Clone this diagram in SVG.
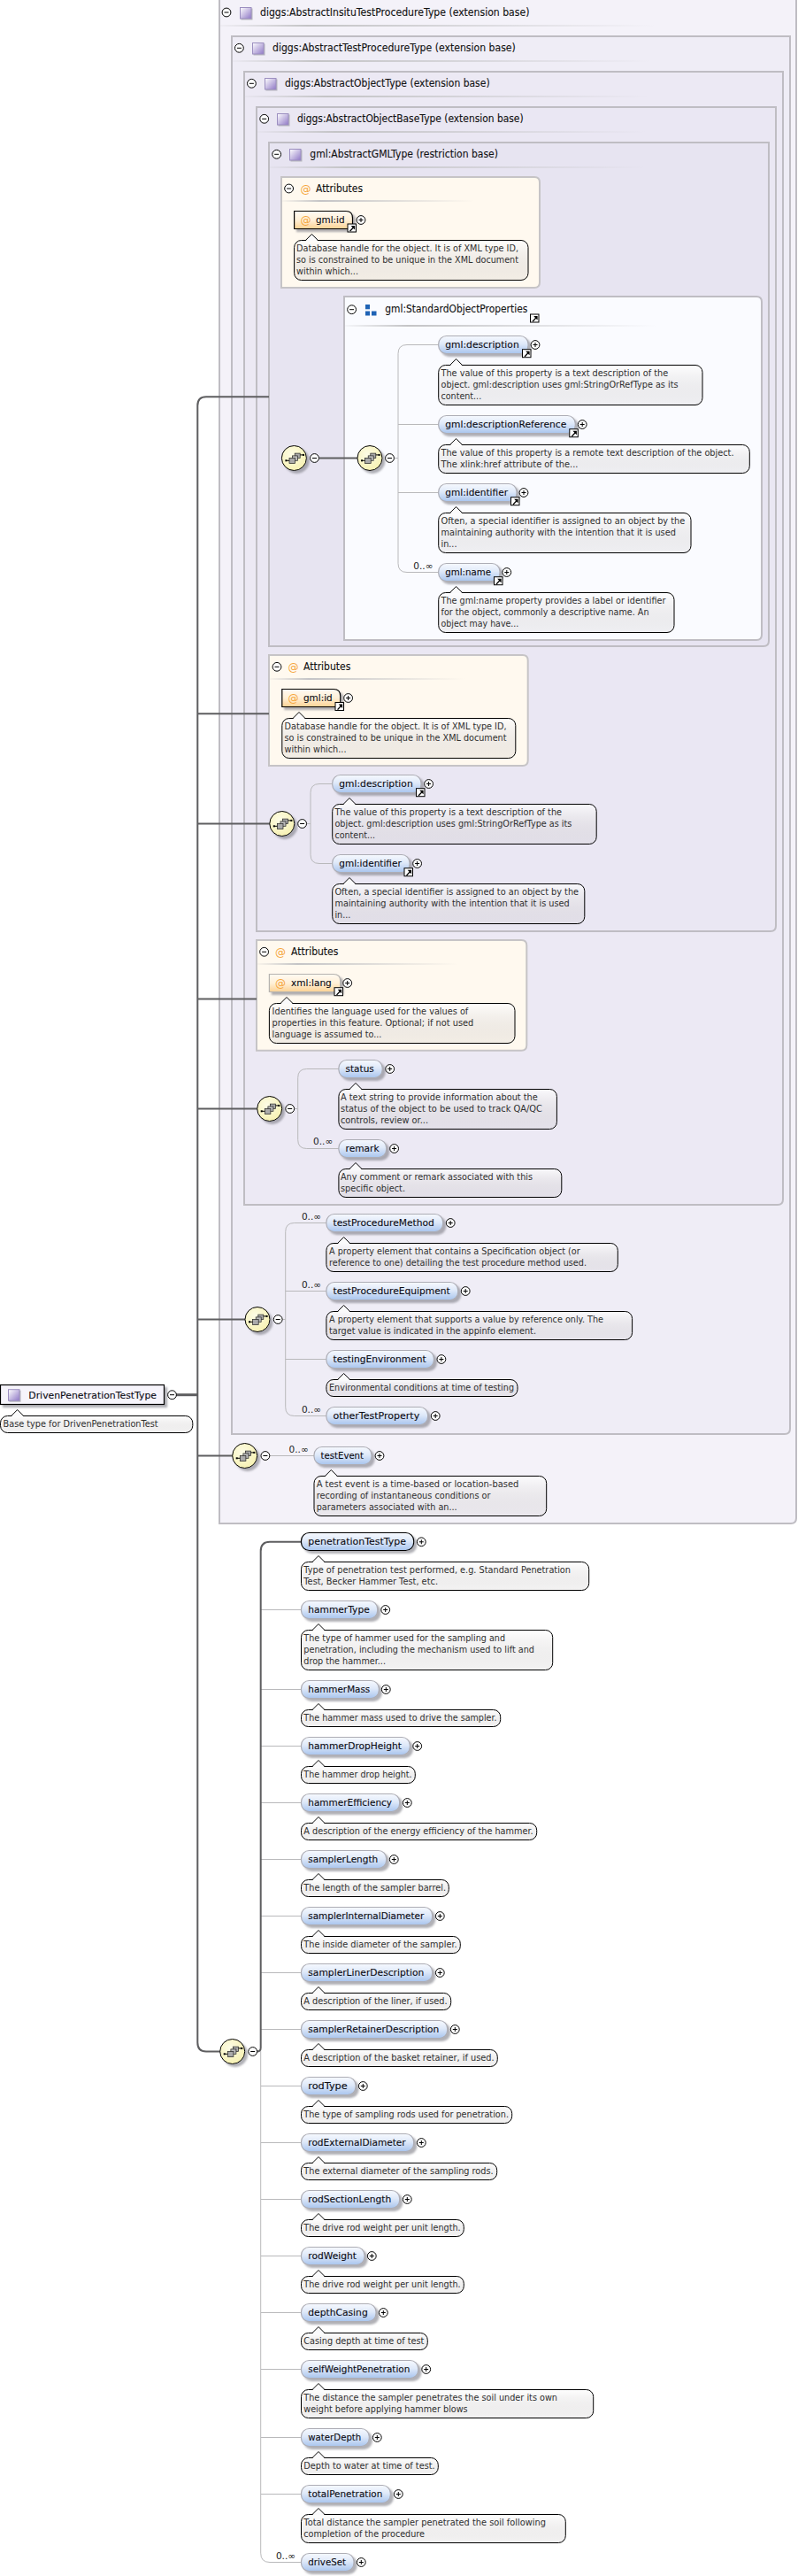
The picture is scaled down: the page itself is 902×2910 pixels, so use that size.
<svg xmlns="http://www.w3.org/2000/svg" width="902" height="2910" viewBox="0 0 902 2910">
<style>
text{font-family:"DejaVu Sans","Liberation Sans",sans-serif}
.hd{font-size:11.5px;fill:#111;stroke:#111;stroke-width:.12}
.nm{font-size:11px;fill:#0c0c14;stroke:#0c0c14;stroke-width:.12}
.dc{font-size:10px;fill:#303030}
.oc{font-size:10.5px;fill:#222}
.at{font-size:12px;fill:#f5a63c}
.frame{stroke:#bfbdc3;stroke-width:2}
.ab{fill:#fff9ef;stroke:#c6c4c6;stroke-width:2}
.el{fill:url(#gEl);stroke:#adadb5;stroke-width:1.2;filter:url(#sh);height:20px}
.elk{fill:url(#gEl);stroke:#000;stroke-width:1.2;filter:url(#sh);height:20px}
.atn{fill:url(#gAt);stroke:#000;stroke-width:1.2;filter:url(#sh)}
.atg{fill:url(#gAt);stroke:#b5b3b0;stroke-width:1.2;filter:url(#sh)}
.doc{fill:url(#gDoc);stroke:#000;stroke-width:1}
.sep{fill:url(#gSep)}
.lt{fill:none;stroke:#b9b9bb;stroke-width:1}
.dk{fill:none;stroke:#5e5e60;stroke-width:2}
</style>
<defs>
<linearGradient id="gEl" x1="0" y1="0" x2="0" y2="1"><stop offset="0" stop-color="#f6f9fe"/><stop offset=".45" stop-color="#dfe9f9"/><stop offset="1" stop-color="#a9c5ee"/></linearGradient>
<linearGradient id="gAt" x1="0" y1="0" x2="0" y2="1"><stop offset="0" stop-color="#fffaf2"/><stop offset=".5" stop-color="#fff0d8"/><stop offset="1" stop-color="#fcd293"/></linearGradient>
<linearGradient id="gDoc" x1="0" y1="0" x2="0" y2="1"><stop offset="0" stop-color="#fff" stop-opacity=".75"/><stop offset="1" stop-color="#c0bcbc" stop-opacity=".18"/></linearGradient>
<linearGradient id="gSep" x1="0" y1="0" x2="1" y2="0"><stop offset="0" stop-color="#c4c4c6" stop-opacity=".1"/><stop offset=".2" stop-color="#c4c4c6"/><stop offset="1" stop-color="#c4c4c6" stop-opacity="0"/></linearGradient>
<linearGradient id="gTy" x1="0" y1="0" x2="1" y2="1"><stop offset="0" stop-color="#fff"/><stop offset="1" stop-color="#8f78c6"/></linearGradient>
<radialGradient id="gSeq" cx=".4" cy=".35" r=".75"><stop offset="0" stop-color="#fdfce6"/><stop offset="1" stop-color="#f6f0ac"/></radialGradient>
<filter id="sh" x="-10%" y="-20%" width="125%" height="160%"><feDropShadow dx="3" dy="3" stdDeviation="1.1" flood-color="#7d7d85" flood-opacity=".6"/></filter>
<g id="plus"><circle r="4.9" fill="#fff" stroke="#000"/><path d="M-2.5,0H2.5M0,-2.5V2.5" stroke="#000"/></g>
<g id="minus"><circle r="4.9" fill="#fff" stroke="#000"/><path d="M-2.5,0H2.5" stroke="#000"/></g>
<g id="lnk"><rect x=".5" y=".5" width="9.5" height="9" fill="#fff" stroke="#000"/><path d="M2.5,8.2L6,4.6L4.2,2.6H8.6V7L6.9,5.5L3.6,9Z" fill="#000"/></g>
<g id="tip"><path d="M-7,.7L0,-7L7,.7Z" fill="#fafafb"/><path d="M-7,0L0,-7L7,0" fill="none" stroke="#000"/></g>
<g id="ty"><rect x="1.5" y="1.5" width="13" height="13" fill="#b8b8be"/><rect x=".5" y=".5" width="12.5" height="12.5" fill="url(#gTy)" stroke="#9c8fc0"/></g>
<g id="seq"><circle r="14" fill="url(#gSeq)" stroke="#000" filter="url(#sh)"/><rect x="0.8" y="-5.4" width="6" height="5.4" fill="#aaa" stroke="#222" stroke-width=".7"/><rect x="-1.8" y="-2.6" width="6" height="5.4" fill="#bbb" stroke="#222" stroke-width=".7"/><rect x="-5.4" y="0" width="6.6" height="6" fill="#aaa" stroke="#222" stroke-width=".7"/><path d="M-9,2.8H-5.4M6.8,-3.6H10.5" stroke="#000"/><rect x="-10" y="1.8" width="2" height="2" fill="#000"/><rect x="9.6" y="-4.6" width="2" height="2" fill="#000"/></g>
</defs>
<rect width="902" height="2910" fill="#fff"/>

<g id="box-insitu"><path class="frame" fill="#f4f2f9" d="M248,-1H900V1715Q900,1721 894,1721H248Z"/><use href="#minus" x="256" y="14"/><use href="#ty" x="271" y="8"/><text class="hd" x="294" y="18" textLength="304.4" lengthAdjust="spacingAndGlyphs">diggs:AbstractInsituTestProcedureType (extension base)</text><rect class="sep" x="249" y="28" width="492" height="2"/></g>
<g id="box-testproc"><path class="frame" fill="#efedf6" d="M262,41H893V1614Q893,1620 887,1620H262Z"/><use href="#minus" x="270.4" y="54.3"/><use href="#ty" x="285" y="48"/><text class="hd" x="308" y="58.3" textLength="274.8" lengthAdjust="spacingAndGlyphs">diggs:AbstractTestProcedureType (extension base)</text><rect class="sep" x="263" y="68" width="473" height="2"/></g>
<g id="box-object"><path class="frame" fill="#ece9f4" d="M276,81H885V1355Q885,1361 879,1361H276Z"/><use href="#minus" x="284.4" y="94.3"/><use href="#ty" x="299" y="88"/><text class="hd" x="322" y="98.3" textLength="231.6" lengthAdjust="spacingAndGlyphs">diggs:AbstractObjectType (extension base)</text><rect class="sep" x="277" y="108" width="456" height="2"/></g>
<g id="box-objectbase"><path class="frame" fill="#eae7f3" d="M290,121H877V1046Q877,1052 871,1052H290Z"/><use href="#minus" x="298.7" y="134.3"/><use href="#ty" x="313" y="128"/><text class="hd" x="336" y="138.3" textLength="255.6" lengthAdjust="spacingAndGlyphs">diggs:AbstractObjectBaseType (extension base)</text><rect class="sep" x="291" y="148" width="440" height="2"/></g>
<g id="box-gml"><path class="frame" fill="#e7e4f1" d="M304,161H869V724Q869,730 863,730H304Z"/><use href="#minus" x="312.7" y="174.3"/><use href="#ty" x="327" y="168"/><text class="hd" x="350.3" y="178.3" textLength="212.7" lengthAdjust="spacingAndGlyphs">gml:AbstractGMLType (restriction base)</text><rect class="sep" x="305" y="188" width="424" height="2"/></g>
<g id="std-props"><path fill="#fafbff" class="frame" d="M389,335H855Q861,335 861,341V717Q861,723 855,723H389Z"/><use href="#minus" x="397.6" y="349.7"/><rect x="413" y="344" width="5" height="5.3" fill="#1f63b5"/><rect x="413" y="351.5" width="5" height="5" fill="#1f63b5"/><rect x="420" y="351.5" width="5.5" height="5" fill="#1f63b5"/><text class="hd" x="435.3" y="353" textLength="161" lengthAdjust="spacingAndGlyphs">gml:StandardObjectProperties</text><use href="#lnk" x="599" y="354.5"/><rect class="sep" x="390" y="367" width="353" height="2"/></g>
<g id="attrs-1"><path class="ab" d="M318,200H604Q610,200 610,206V319Q610,325 604,325H318Z"/><use href="#minus" x="326.6" y="213"/><text class="at" x="339.5" y="217.5">@</text><text class="hd" x="357" y="217" textLength="53" lengthAdjust="spacingAndGlyphs">Attributes</text><rect class="sep" x="319" y="226" width="217" height="2"/></g>
<g id="attrs-2"><path class="ab" d="M304,740H590.7Q596.7,740 596.7,746V859Q596.7,865 590.7,865H304Z"/><use href="#minus" x="313" y="753.3"/><text class="at" x="325.5" y="757.8">@</text><text class="hd" x="343" y="757.3" textLength="53.3" lengthAdjust="spacingAndGlyphs">Attributes</text><rect class="sep" x="305" y="766" width="220" height="2"/></g>
<g id="attrs-3"><path class="ab" d="M290,1062H589.3Q595.3,1062 595.3,1068V1180.7Q595.3,1186.7 589.3,1186.7H290Z"/><use href="#minus" x="298.6" y="1075.3"/><text class="at" x="311" y="1079.8">@</text><text class="hd" x="329" y="1079.3" textLength="53.4" lengthAdjust="spacingAndGlyphs">Attributes</text><rect class="sep" x="291" y="1088" width="227" height="2"/></g>

<g transform="translate(0 .2)">
<g id="connectors">
<path class="lt" d="M446,517.3H450M450,399.3Q450,389.3 460,389.3H495.7M450,399.3V636.3Q450,646.3 460,646.3H495.7M450,479.3H495.7M450,556.3H495.7"/>
<path class="lt" d="M346,930.3H351M351,895.3Q351,885.3 361,885.3H375.7M351,895.3V965.3Q351,975.3 361,975.3H375.7"/>
<path class="lt" d="M332.5,1252.3H336.7M336.7,1217.3Q336.7,1207.3 346.7,1207.3H383M336.7,1217.3V1287.3Q336.7,1297.3 346.7,1297.3H383"/>
<path class="lt" d="M319,1490.3H322.7M322.7,1391.3Q322.7,1381.3 332.7,1381.3H369M322.7,1391.3V1589.3Q322.7,1599.3 332.7,1599.3H369M322.7,1458.3H369M322.7,1535.3H369"/>
<path class="lt" d="M305,1644.3H355"/>
<path class="lt" d="M294.7,2317V2884Q294.7,2894.3 305,2894.3H340.5M295,1818.3H340.5M295,1908.3H340.5M295,1972.3H340.5M295,2036.3H340.5M295,2100.3H340.5M295,2164.3H340.5M295,2228.3H340.5M295,2292.3H340.5M295,2356.3H340.5M295,2420.3H340.5M295,2484.3H340.5M295,2548.3H340.5M295,2612.3H340.5M295,2676.3H340.5M295,2753.3H340.5M295,2817.3H340.5"/>
<path class="dk" d="M304,448H233Q223.3,448 223.3,458V2307Q223.3,2317.3 233,2317.3H249"/>
<path class="dk" d="M223,806H304M223,930.3H305M223,1128.3H290M223,1252.3H291M223,1490.3H277M223,1644.3H263"/>
<path class="dk" style="stroke-width:3" d="M199,1575.5H224"/>
<path class="dk" d="M361,517.3H404"/>
<path class="dk" d="M340.5,1741.5H305Q294.7,1741.5 294.7,1752V2313Q294.7,2317.3 290.5,2317.3"/>
</g>

<g id="n-gml-id-1"><path class="atn" d="M332.6,238.3H391Q398.5,238.3 398.5,246V258.3H332.6Z"/><text class="at" x="339.5" y="252.5">@</text><text class="nm" x="357" y="252" textLength="32.6" lengthAdjust="spacingAndGlyphs">gml:id</text><use href="#lnk" x="392.5" y="252.3"/><use href="#plus" x="408" y="248.3"/>
<rect class="doc" x="332.6" y="271.3" width="264.4" height="45" rx="8"/><use href="#tip" x="352.4" y="271.3"/><text class="dc" x="335" y="283.5" textLength="251" lengthAdjust="spacingAndGlyphs">Database handle for the object. It is of XML type ID,</text><text class="dc" x="335" y="296.5" textLength="251" lengthAdjust="spacingAndGlyphs">so is constrained to be unique in the XML document</text><text class="dc" x="335" y="309.5" textLength="70" lengthAdjust="spacingAndGlyphs">within which...</text></g>

<g id="seq-a"><use href="#seq" x="332.4" y="517.3"/><use href="#minus" x="355.5" y="517.3"/><use href="#seq" x="418" y="517.3"/><use href="#minus" x="440.5" y="517.3"/></g>

<g id="n-gml-description-1"><rect class="el" x="495.7" y="379.3" width="101.3" height="20.5" rx="9"/><text class="nm" x="503.3" y="393" textLength="83.4" lengthAdjust="spacingAndGlyphs">gml:description</text><use href="#lnk" x="590" y="394"/><use href="#plus" x="605" y="389.3"/>
<rect class="doc" x="495.7" y="412.3" width="298.3" height="45" rx="8"/><use href="#tip" x="515.6" y="412.3"/><text class="dc" x="498.5" y="424.5" textLength="256.7" lengthAdjust="spacingAndGlyphs">The value of this property is a text description of the</text><text class="dc" x="498.5" y="437.5" textLength="268" lengthAdjust="spacingAndGlyphs">object. gml:description uses gml:StringOrRefType as its</text><text class="dc" x="498.5" y="450.5" textLength="45.7" lengthAdjust="spacingAndGlyphs">content...</text></g>
<g id="n-gml-descriptionReference"><rect class="el" x="495.7" y="469.3" width="154.6" height="20.5" rx="9"/><text class="nm" x="503.3" y="483" textLength="137" lengthAdjust="spacingAndGlyphs">gml:descriptionReference</text><use href="#lnk" x="643.3" y="484"/><use href="#plus" x="658.2" y="479.3"/>
<rect class="doc" x="495.7" y="502.3" width="351.6" height="32" rx="8"/><use href="#tip" x="515.6" y="502.3"/><text class="dc" x="498.5" y="514.5" textLength="331" lengthAdjust="spacingAndGlyphs">The value of this property is a remote text description of the object.</text><text class="dc" x="498.5" y="527.5" textLength="155" lengthAdjust="spacingAndGlyphs">The xlink:href attribute of the...</text></g>
<g id="n-gml-identifier-1"><rect class="el" x="495.7" y="546.3" width="88.3" height="20.5" rx="9"/><text class="nm" x="503.3" y="560" textLength="70.7" lengthAdjust="spacingAndGlyphs">gml:identifier</text><use href="#lnk" x="577" y="561"/><use href="#plus" x="592" y="556.3"/>
<rect class="doc" x="495.7" y="579.3" width="285.3" height="45" rx="8"/><use href="#tip" x="515.6" y="579.3"/><text class="dc" x="498.5" y="591.5" textLength="275.7" lengthAdjust="spacingAndGlyphs">Often, a special identifier is assigned to an object by the</text><text class="dc" x="498.5" y="604.5" textLength="265.4" lengthAdjust="spacingAndGlyphs">maintaining authority with the intention that it is used</text><text class="dc" x="498.5" y="617.5" textLength="18" lengthAdjust="spacingAndGlyphs">in...</text></g>
<g id="n-gml-name"><text class="oc" x="489.4" y="642.5" text-anchor="end">0..∞</text><rect class="el" x="495.7" y="636.3" width="69.3" height="20.5" rx="9"/><text class="nm" x="503.3" y="650" textLength="51.7" lengthAdjust="spacingAndGlyphs">gml:name</text><use href="#lnk" x="558" y="651"/><use href="#plus" x="572.8" y="646.3"/>
<rect class="doc" x="495.7" y="669.3" width="266.3" height="45" rx="8"/><use href="#tip" x="515.6" y="669.3"/><text class="dc" x="498.5" y="681.5" textLength="254" lengthAdjust="spacingAndGlyphs">The gml:name property provides a label or identifier</text><text class="dc" x="498.5" y="694.5" textLength="235" lengthAdjust="spacingAndGlyphs">for the object, commonly a descriptive name. An</text><text class="dc" x="498.5" y="707.5" textLength="87.8" lengthAdjust="spacingAndGlyphs">object may have...</text></g>

<g id="n-gml-id-2"><path class="atn" d="M318.8,778.3H377Q384.7,778.3 384.7,786V798.3H318.8Z"/><text class="at" x="325.5" y="792.5">@</text><text class="nm" x="343" y="792" textLength="32.7" lengthAdjust="spacingAndGlyphs">gml:id</text><use href="#lnk" x="378.5" y="792.8"/><use href="#plus" x="393.6" y="788.3"/>
<rect class="doc" x="318.8" y="811.3" width="264" height="45" rx="8"/><use href="#tip" x="338" y="811.3"/><text class="dc" x="321.5" y="823.5" textLength="251" lengthAdjust="spacingAndGlyphs">Database handle for the object. It is of XML type ID,</text><text class="dc" x="321.5" y="836.5" textLength="251" lengthAdjust="spacingAndGlyphs">so is constrained to be unique in the XML document</text><text class="dc" x="321.5" y="849.5" textLength="70" lengthAdjust="spacingAndGlyphs">within which...</text></g>

<g id="seq-b"><use href="#seq" x="318.8" y="930.3"/><use href="#minus" x="341.6" y="930.3"/></g>
<g id="n-gml-description-2"><rect class="el" x="375.7" y="875.3" width="100.3" height="20.5" rx="9"/><text class="nm" x="383.3" y="889" textLength="83.4" lengthAdjust="spacingAndGlyphs">gml:description</text><use href="#lnk" x="470" y="890"/><use href="#plus" x="484.6" y="885.3"/>
<rect class="doc" x="375.7" y="908.3" width="298.5" height="45" rx="8"/><use href="#tip" x="395" y="908.3"/><text class="dc" x="378.4" y="920.5" textLength="256.7" lengthAdjust="spacingAndGlyphs">The value of this property is a text description of the</text><text class="dc" x="378.4" y="933.5" textLength="268" lengthAdjust="spacingAndGlyphs">object. gml:description uses gml:StringOrRefType as its</text><text class="dc" x="378.4" y="946.5" textLength="45.7" lengthAdjust="spacingAndGlyphs">content...</text></g>
<g id="n-gml-identifier-2"><rect class="el" x="375.7" y="965.3" width="87.3" height="20.5" rx="9"/><text class="nm" x="383.3" y="979" textLength="70.4" lengthAdjust="spacingAndGlyphs">gml:identifier</text><use href="#lnk" x="456.5" y="980"/><use href="#plus" x="471.6" y="975.3"/>
<rect class="doc" x="375.7" y="998.3" width="285.1" height="45" rx="8"/><use href="#tip" x="395" y="998.3"/><text class="dc" x="378.4" y="1010.5" textLength="275.7" lengthAdjust="spacingAndGlyphs">Often, a special identifier is assigned to an object by the</text><text class="dc" x="378.4" y="1023.5" textLength="265.4" lengthAdjust="spacingAndGlyphs">maintaining authority with the intention that it is used</text><text class="dc" x="378.4" y="1036.5" textLength="18" lengthAdjust="spacingAndGlyphs">in...</text></g>

<g id="n-xml-lang"><path class="atg" d="M304.4,1100.3H377Q384.7,1100.3 384.7,1108V1120.3H304.4Z"/><text class="at" x="311" y="1114.5">@</text><text class="nm" x="329" y="1114" textLength="45.8" lengthAdjust="spacingAndGlyphs">xml:lang</text><use href="#lnk" x="377.5" y="1115"/><use href="#plus" x="392.7" y="1110.3"/>
<rect class="doc" x="304.4" y="1133.3" width="277.6" height="45" rx="8"/><use href="#tip" x="324" y="1133.3"/><text class="dc" x="307.6" y="1145.5" textLength="221.7" lengthAdjust="spacingAndGlyphs">Identifies the language used for the values of</text><text class="dc" x="307.6" y="1158.5" textLength="227.7" lengthAdjust="spacingAndGlyphs">properties in this feature. Optional; if not used</text><text class="dc" x="307.6" y="1171.5" textLength="123.8" lengthAdjust="spacingAndGlyphs">language is assumed to...</text></g>

<g id="seq-c"><use href="#seq" x="304.7" y="1252.3"/><use href="#minus" x="327.7" y="1252.3"/></g>
<g id="n-status"><rect class="el" x="382.9" y="1197.3" width="49.3" height="20.5" rx="9"/><text class="nm" x="390.5" y="1211" textLength="32.3" lengthAdjust="spacingAndGlyphs">status</text><use href="#plus" x="440.7" y="1207.3"/>
<rect class="doc" x="382.9" y="1230.3" width="246.5" height="45" rx="8"/><use href="#tip" x="402" y="1230.3"/><text class="dc" x="385" y="1242.5" textLength="222.8" lengthAdjust="spacingAndGlyphs">A text string to provide information about the</text><text class="dc" x="385" y="1255.5" textLength="228" lengthAdjust="spacingAndGlyphs">status of the object to be used to track QA/QC</text><text class="dc" x="385" y="1268.5" textLength="99" lengthAdjust="spacingAndGlyphs">controls, review or...</text></g>
<g id="n-remark"><text class="oc" x="376.2" y="1293.3" text-anchor="end">0..∞</text><rect class="el" x="382.9" y="1287.3" width="53.8" height="20.5" rx="9"/><text class="nm" x="390.5" y="1301" textLength="38.1" lengthAdjust="spacingAndGlyphs">remark</text><use href="#plus" x="445.6" y="1297.3"/>
<rect class="doc" x="382.9" y="1320.3" width="251.9" height="32" rx="8"/><use href="#tip" x="402" y="1320.3"/><text class="dc" x="385" y="1332.5" textLength="217" lengthAdjust="spacingAndGlyphs">Any comment or remark associated with this</text><text class="dc" x="385" y="1345.5" textLength="73" lengthAdjust="spacingAndGlyphs">specific object.</text></g>

<g id="seq-d"><use href="#seq" x="291" y="1490.3"/><use href="#minus" x="314.2" y="1490.3"/></g>
<g id="n-testProcedureMethod"><text class="oc" x="363" y="1377.5" text-anchor="end">0..∞</text><rect class="el" x="368.9" y="1371.3" width="131.8" height="20.5" rx="9"/><text class="nm" x="376.5" y="1385" textLength="114.3" lengthAdjust="spacingAndGlyphs">testProcedureMethod</text><use href="#plus" x="509.2" y="1381.3"/>
<rect class="doc" x="368.9" y="1404.3" width="329.4" height="32" rx="8"/><use href="#tip" x="388.6" y="1404.3"/><text class="dc" x="372" y="1416.5" textLength="283.7" lengthAdjust="spacingAndGlyphs">A property element that contains a Specification object (or</text><text class="dc" x="372" y="1429.5" textLength="291" lengthAdjust="spacingAndGlyphs">reference to one) detailing the test procedure method used.</text></g>
<g id="n-testProcedureEquipment"><text class="oc" x="363" y="1454.5" text-anchor="end">0..∞</text><rect class="el" x="368.9" y="1448.3" width="148.8" height="20.5" rx="9"/><text class="nm" x="376.5" y="1462" textLength="132.2" lengthAdjust="spacingAndGlyphs">testProcedureEquipment</text><use href="#plus" x="526.2" y="1458.3"/>
<rect class="doc" x="368.9" y="1481.3" width="345.7" height="32" rx="8"/><use href="#tip" x="388.6" y="1481.3"/><text class="dc" x="372" y="1493.5" textLength="310" lengthAdjust="spacingAndGlyphs">A property element that supports a value by reference only. The</text><text class="dc" x="372" y="1506.5" textLength="234" lengthAdjust="spacingAndGlyphs">target value is indicated in the appinfo element.</text></g>
<g id="n-testingEnvironment"><rect class="el" x="368.9" y="1525.3" width="121.5" height="20.5" rx="9"/><text class="nm" x="376.5" y="1539" textLength="105.3" lengthAdjust="spacingAndGlyphs">testingEnvironment</text><use href="#plus" x="498.9" y="1535.3"/>
<rect class="doc" x="368.9" y="1558.3" width="216.1" height="19" rx="8"/><use href="#tip" x="388.6" y="1558.3"/><text class="dc" x="372" y="1570.5" textLength="209" lengthAdjust="spacingAndGlyphs">Environmental conditions at time of testing</text></g>
<g id="n-otherTestProperty"><text class="oc" x="363" y="1595.5" text-anchor="end">0..∞</text><rect class="el" x="368.9" y="1589.3" width="114.7" height="20.5" rx="9"/><text class="nm" x="376.5" y="1603" textLength="97.7" lengthAdjust="spacingAndGlyphs">otherTestProperty</text><use href="#plus" x="492.2" y="1599.3"/></g>

<g id="seq-e"><use href="#seq" x="276.7" y="1644.3"/><use href="#minus" x="299.9" y="1644.3"/></g>
<g id="n-testEvent"><text class="oc" x="348.7" y="1640.8" text-anchor="end">0..∞</text><rect class="el" x="355" y="1634.3" width="65" height="20.5" rx="9"/><text class="nm" x="362.6" y="1648" textLength="48.4" lengthAdjust="spacingAndGlyphs">testEvent</text><use href="#plus" x="429" y="1644.3"/>
<rect class="doc" x="355" y="1667.3" width="262.7" height="45" rx="8"/><use href="#tip" x="374.3" y="1667.3"/><text class="dc" x="357.7" y="1679.5" textLength="228.6" lengthAdjust="spacingAndGlyphs">A test event is a time-based or location-based</text><text class="dc" x="357.7" y="1692.5" textLength="196.8" lengthAdjust="spacingAndGlyphs">recording of instantaneous conditions or</text><text class="dc" x="357.7" y="1705.5" textLength="159" lengthAdjust="spacingAndGlyphs">parameters associated with an...</text></g>

<g id="n-root"><rect class="elk" style="fill:#f6f4fb;height:22px" x=".5" y="1564.3" width="185" height="22"/><use href="#ty" x="9" y="1569"/><text class="nm" x="32.3" y="1579.5" textLength="144.7" lengthAdjust="spacingAndGlyphs">DrivenPenetrationTestType</text><use href="#minus" x="194.5" y="1575.5"/>
<rect class="doc" x=".5" y="1599.3" width="217.3" height="19" rx="8"/><use href="#tip" x="19.7" y="1599.3"/><text class="dc" x="3.6" y="1611.5" textLength="175" lengthAdjust="spacingAndGlyphs">Base type for DrivenPenetrationTest</text></g>

<g id="seq-main"><use href="#seq" x="262.7" y="2317.3"/><use href="#minus" x="285.7" y="2317.3"/></g>

<g id="n-penetrationTestType"><rect class="elk" x="340.5" y="1731.3" width="127.2" height="20.4" rx="9"/><text class="nm" x="348.3" y="1745" textLength="110.7" lengthAdjust="spacingAndGlyphs">penetrationTestType</text><use href="#plus" x="476.3" y="1741.6"/>
<rect class="doc" x="340.5" y="1764.3" width="325.2" height="32" rx="8"/><use href="#tip" x="360" y="1764.3"/><text class="dc" x="343.3" y="1776.5" textLength="301.7" lengthAdjust="spacingAndGlyphs">Type of penetration test performed, e.g. Standard Penetration</text><text class="dc" x="343.3" y="1789.5" textLength="151.7" lengthAdjust="spacingAndGlyphs">Test, Becker Hammer Test, etc.</text></g>
<g id="n-hammerType"><rect class="el" x="340.5" y="1808.3" width="86.2" height="20.5" rx="9"/><text class="nm" x="348.3" y="1822" textLength="69.4" lengthAdjust="spacingAndGlyphs">hammerType</text><use href="#plus" x="435.7" y="1818.3"/>
<rect class="doc" x="340.5" y="1841.3" width="284.2" height="45" rx="8"/><use href="#tip" x="360" y="1841.3"/><text class="dc" x="343.3" y="1853.5" textLength="227.7" lengthAdjust="spacingAndGlyphs">The type of hammer used for the sampling and</text><text class="dc" x="343.3" y="1866.5" textLength="260.7" lengthAdjust="spacingAndGlyphs">penetration, including the mechanism used to lift and</text><text class="dc" x="343.3" y="1879.5" textLength="92.7" lengthAdjust="spacingAndGlyphs">drop the hammer...</text></g>
<g id="n-hammerMass"><rect class="el" x="340.5" y="1898.3" width="87.8" height="20.5" rx="9"/><text class="nm" x="348.3" y="1912" textLength="70" lengthAdjust="spacingAndGlyphs">hammerMass</text><use href="#plus" x="436.3" y="1908.3"/>
<rect class="doc" x="340.5" y="1931.3" width="225.2" height="19" rx="8"/><use href="#tip" x="360" y="1931.3"/><text class="dc" x="343.3" y="1943.5" textLength="218.3" lengthAdjust="spacingAndGlyphs">The hammer mass used to drive the sampler.</text></g>
<g id="n-hammerDropHeight"><rect class="el" x="340.5" y="1962.3" width="122.8" height="20.5" rx="9"/><text class="nm" x="348.3" y="1976" textLength="105.7" lengthAdjust="spacingAndGlyphs">hammerDropHeight</text><use href="#plus" x="471.7" y="1972.3"/>
<rect class="doc" x="340.5" y="1995.3" width="128.8" height="19" rx="8"/><use href="#tip" x="360" y="1995.3"/><text class="dc" x="343.3" y="2007.5" textLength="122.3" lengthAdjust="spacingAndGlyphs">The hammer drop height.</text></g>
<g id="n-hammerEfficiency"><rect class="el" x="340.5" y="2026.3" width="111.2" height="20.5" rx="9"/><text class="nm" x="348.3" y="2040" textLength="94.7" lengthAdjust="spacingAndGlyphs">hammerEfficiency</text><use href="#plus" x="460.3" y="2036.3"/>
<rect class="doc" x="340.5" y="2059.3" width="266.2" height="19" rx="8"/><use href="#tip" x="360" y="2059.3"/><text class="dc" x="343.3" y="2071.5" textLength="259.3" lengthAdjust="spacingAndGlyphs">A description of the energy efficiency of the hammer.</text></g>
<g id="n-samplerLength"><rect class="el" x="340.5" y="2090.3" width="96.2" height="20.5" rx="9"/><text class="nm" x="348.3" y="2104" textLength="79" lengthAdjust="spacingAndGlyphs">samplerLength</text><use href="#plus" x="445.3" y="2100.3"/>
<rect class="doc" x="340.5" y="2123.3" width="166.8" height="19" rx="8"/><use href="#tip" x="360" y="2123.3"/><text class="dc" x="343.3" y="2135.5" textLength="160.7" lengthAdjust="spacingAndGlyphs">The length of the sampler barrel.</text></g>
<g id="n-samplerInternalDiameter"><rect class="el" x="340.5" y="2154.3" width="148.2" height="20.5" rx="9"/><text class="nm" x="348.3" y="2168" textLength="131" lengthAdjust="spacingAndGlyphs">samplerInternalDiameter</text><use href="#plus" x="497.3" y="2164.3"/>
<rect class="doc" x="340.5" y="2187.3" width="179.8" height="19" rx="8"/><use href="#tip" x="360" y="2187.3"/><text class="dc" x="343.3" y="2199.5" textLength="173.3" lengthAdjust="spacingAndGlyphs">The inside diameter of the sampler.</text></g>
<g id="n-samplerLinerDescription"><rect class="el" x="340.5" y="2218.3" width="148.2" height="20.5" rx="9"/><text class="nm" x="348.3" y="2232" textLength="131" lengthAdjust="spacingAndGlyphs">samplerLinerDescription</text><use href="#plus" x="497.3" y="2228.3"/>
<rect class="doc" x="340.5" y="2251.3" width="169.2" height="19" rx="8"/><use href="#tip" x="360" y="2251.3"/><text class="dc" x="343.3" y="2263.5" textLength="162.3" lengthAdjust="spacingAndGlyphs">A description of the liner, if used.</text></g>
<g id="n-samplerRetainerDescription"><rect class="el" x="340.5" y="2282.3" width="165.2" height="20.5" rx="9"/><text class="nm" x="348.3" y="2296" textLength="148" lengthAdjust="spacingAndGlyphs">samplerRetainerDescription</text><use href="#plus" x="514.3" y="2292.3"/>
<rect class="doc" x="340.5" y="2315.3" width="221.8" height="19" rx="8"/><use href="#tip" x="360" y="2315.3"/><text class="dc" x="343.3" y="2327.5" textLength="215.3" lengthAdjust="spacingAndGlyphs">A description of the basket retainer, if used.</text></g>
<g id="n-rodType"><rect class="el" x="340.5" y="2346.3" width="61.5" height="20.5" rx="9"/><text class="nm" x="348.3" y="2360" textLength="44.4" lengthAdjust="spacingAndGlyphs">rodType</text><use href="#plus" x="410.3" y="2356.3"/>
<rect class="doc" x="340.5" y="2379.3" width="238.2" height="19" rx="8"/><use href="#tip" x="360" y="2379.3"/><text class="dc" x="343.3" y="2391.5" textLength="231.7" lengthAdjust="spacingAndGlyphs">The type of sampling rods used for penetration.</text></g>
<g id="n-rodExternalDiameter"><rect class="el" x="340.5" y="2410.3" width="127.2" height="20.5" rx="9"/><text class="nm" x="348.3" y="2424" textLength="110.4" lengthAdjust="spacingAndGlyphs">rodExternalDiameter</text><use href="#plus" x="476.3" y="2420.3"/>
<rect class="doc" x="340.5" y="2443.3" width="221.2" height="19" rx="8"/><use href="#tip" x="360" y="2443.3"/><text class="dc" x="343.3" y="2455.5" textLength="214.3" lengthAdjust="spacingAndGlyphs">The external diameter of the sampling rods.</text></g>
<g id="n-rodSectionLength"><rect class="el" x="340.5" y="2474.3" width="111.2" height="20.5" rx="9"/><text class="nm" x="348.3" y="2488" textLength="94" lengthAdjust="spacingAndGlyphs">rodSectionLength</text><use href="#plus" x="460.3" y="2484.3"/>
<rect class="doc" x="340.5" y="2507.3" width="183.8" height="19" rx="8"/><use href="#tip" x="360" y="2507.3"/><text class="dc" x="343.3" y="2519.5" textLength="177.3" lengthAdjust="spacingAndGlyphs">The drive rod weight per unit length.</text></g>
<g id="n-rodWeight"><rect class="el" x="340.5" y="2538.3" width="71.5" height="20.5" rx="9"/><text class="nm" x="348.3" y="2552" textLength="54.7" lengthAdjust="spacingAndGlyphs">rodWeight</text><use href="#plus" x="420.3" y="2548.3"/>
<rect class="doc" x="340.5" y="2571.3" width="183.8" height="19" rx="8"/><use href="#tip" x="360" y="2571.3"/><text class="dc" x="343.3" y="2583.5" textLength="177.3" lengthAdjust="spacingAndGlyphs">The drive rod weight per unit length.</text></g>
<g id="n-depthCasing"><rect class="el" x="340.5" y="2602.3" width="84.5" height="20.5" rx="9"/><text class="nm" x="348.3" y="2616" textLength="67.4" lengthAdjust="spacingAndGlyphs">depthCasing</text><use href="#plus" x="433.3" y="2612.3"/>
<rect class="doc" x="340.5" y="2635.3" width="142.8" height="19" rx="8"/><use href="#tip" x="360" y="2635.3"/><text class="dc" x="343.3" y="2647.5" textLength="136" lengthAdjust="spacingAndGlyphs">Casing depth at time of test</text></g>
<g id="n-selfWeightPenetration"><rect class="el" x="340.5" y="2666.3" width="132.2" height="20.5" rx="9"/><text class="nm" x="348.3" y="2680" textLength="115" lengthAdjust="spacingAndGlyphs">selfWeightPenetration</text><use href="#plus" x="481.7" y="2676.3"/>
<rect class="doc" x="340.5" y="2699.3" width="330.2" height="32" rx="8"/><use href="#tip" x="360" y="2699.3"/><text class="dc" x="343.3" y="2711.5" textLength="286.7" lengthAdjust="spacingAndGlyphs">The distance the sampler penetrates the soil under its own</text><text class="dc" x="343.3" y="2724.5" textLength="185.3" lengthAdjust="spacingAndGlyphs">weight before applying hammer blows</text></g>
<g id="n-waterDepth"><rect class="el" x="340.5" y="2743.3" width="76.8" height="20.5" rx="9"/><text class="nm" x="348.3" y="2757" textLength="60" lengthAdjust="spacingAndGlyphs">waterDepth</text><use href="#plus" x="426.3" y="2753.3"/>
<rect class="doc" x="340.5" y="2776.3" width="154.8" height="19" rx="8"/><use href="#tip" x="360" y="2776.3"/><text class="dc" x="343.3" y="2788.5" textLength="148.3" lengthAdjust="spacingAndGlyphs">Depth to water at time of test.</text></g>
<g id="n-totalPenetration"><rect class="el" x="340.5" y="2807.3" width="100.8" height="20.5" rx="9"/><text class="nm" x="348.3" y="2821" textLength="84" lengthAdjust="spacingAndGlyphs">totalPenetration</text><use href="#plus" x="450.3" y="2817.3"/>
<rect class="doc" x="340.5" y="2840.3" width="298.8" height="32" rx="8"/><use href="#tip" x="360" y="2840.3"/><text class="dc" x="343.3" y="2852.5" textLength="273.7" lengthAdjust="spacingAndGlyphs">Total distance the sampler penetrated the soil following</text><text class="dc" x="343.3" y="2865.5" textLength="136.7" lengthAdjust="spacingAndGlyphs">completion of the procedure</text></g>
<g id="n-driveSet"><text class="oc" x="334" y="2890.5" text-anchor="end">0..∞</text><rect class="el" x="340.5" y="2884.3" width="59.5" height="20.5" rx="9"/><text class="nm" x="348.3" y="2898" textLength="42.7" lengthAdjust="spacingAndGlyphs">driveSet</text><use href="#plus" x="408.3" y="2894.3"/></g>
</g>
</svg>
